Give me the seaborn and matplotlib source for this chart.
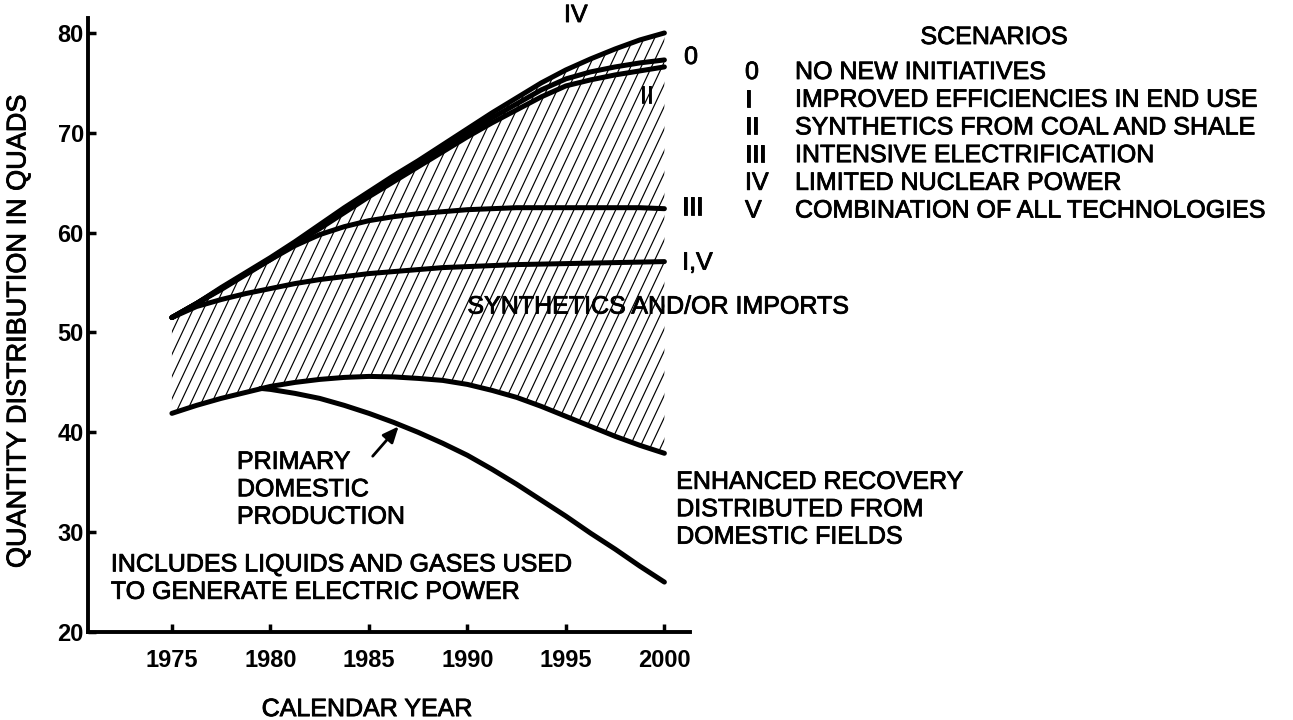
import numpy as np
import pandas as pd
import matplotlib
matplotlib.use("Agg")
import matplotlib.pyplot as plt
import matplotlib.patheffects as pe
import seaborn as sns

# ── data (quads) ───────────────────────────────────────────────────
years = [1975, 1976.25, 1977.5, 1978.75, 1980, 1981.25, 1982.5, 1983.75, 1985, 1986.25, 1987.5,
         1988.75, 1990, 1991.25, 1992.5, 1993.75, 1995, 1996.25, 1997.5, 1998.75, 2000]
scen_iv = [51.5, 52.9, 54.5, 56.0, 57.5, 59.1, 60.8, 62.5, 64.1, 65.7, 67.2,
           68.8, 70.4, 72.0, 73.5, 75.0, 76.3, 77.4, 78.4, 79.3, 80.0]
scen_0 = [51.5, 52.9, 54.4, 55.9, 57.4, 59.0, 60.6, 62.3, 63.9, 65.4, 66.9,
          68.5, 70.0, 71.5, 72.9, 74.3, 75.4, 76.1, 76.6, 77.0, 77.3]
scen_ii = [51.5, 52.9, 54.3, 55.8, 57.3, 58.9, 60.4, 62.0, 63.6, 65.1, 66.6,
           68.1, 69.6, 71.0, 72.3, 73.6, 74.7, 75.3, 75.8, 76.2, 76.6]
scen_iii = [51.5, 52.9, 54.4, 55.9, 57.3, 58.7, 59.8, 60.6, 61.2, 61.6, 61.9,
            62.1, 62.3, 62.4, 62.5, 62.5, 62.5, 62.5, 62.5, 62.5, 62.4]
scen_i_v = [51.5, 52.6, 53.3, 53.9, 54.4, 54.9, 55.3, 55.6, 55.9, 56.1, 56.3,
            56.5, 56.6, 56.7, 56.8, 56.85, 56.9, 56.95, 57.0, 57.05, 57.1]
enhanced = [41.9, 42.7, 43.4, 44.0, 44.6, 45.0, 45.3, 45.5, 45.6, 45.55, 45.4,
            45.2, 44.8, 44.2, 43.5, 42.6, 41.6, 40.6, 39.6, 38.7, 37.9]

primary_years = [1979.5, 1980, 1981.25, 1982.5, 1983.75, 1985, 1986.25, 1987.5, 1988.75,
                 1990, 1991.25, 1992.5, 1993.75, 1995, 1996.25, 1997.5, 1998.75, 2000]
primary = [44.4, 44.3, 43.9, 43.4, 42.7, 41.9, 41.0, 40.0, 38.9,
           37.7, 36.3, 34.8, 33.2, 31.6, 29.9, 28.3, 26.6, 25.0]

x_ticks = [1975, 1980, 1985, 1990, 1995, 2000]
y_ticks = [20, 30, 40, 50, 60, 70, 80]

scenario_codes = ["0", "I", "II", "III", "IV", "V"]
scenario_names = [
    "NO NEW INITIATIVES",
    "IMPROVED EFFICIENCIES IN END USE",
    "SYNTHETICS FROM COAL AND SHALE",
    "INTENSIVE ELECTRIFICATION",
    "LIMITED NUCLEAR POWER",
    "COMBINATION OF ALL TECHNOLOGIES",
]

# long-form table for seaborn
curves = {
    "IV": (years, scen_iv),
    "0": (years, scen_0),
    "II": (years, scen_ii),
    "III": (years, scen_iii),
    "I,V": (years, scen_i_v),
    "enhanced": (years, enhanced),
    "primary": (primary_years, primary),
}
df = pd.concat(
    [pd.DataFrame({"year": xs, "quads": ys, "curve": name}) for name, (xs, ys) in curves.items()],
    ignore_index=True,
)

# ── style ───────────────────────────────────────────────────────────
sns.set_theme(style="ticks")
plt.rcParams["font.family"] = ["Liberation Sans", "DejaVu Sans"]
plt.rcParams["text.color"] = "black"
plt.rcParams["axes.labelcolor"] = "black"

# slightly heavier lettering, like the printed original
ink = [pe.withStroke(linewidth=0.6, foreground="black")]

W, H = 1293, 720
fig = plt.figure(figsize=(W / 100, H / 100), dpi=100)
ax = fig.add_axes([88 / W, 1 - 632 / H, (690 - 88) / W, (632 - 18) / H])
ax.set_xlim(1970.74, 2001.3)
ax.set_ylim(20, 81.5)

# hatched band between enhanced recovery and the top scenario
band = ax.fill_between(years, enhanced, scen_iv, facecolor="none", edgecolor="none")
clip = band.get_paths()[0]
slope = 4.2          # steep hatch (~65 deg on screen)
step = 0.53          # spacing in years
for x0 in np.arange(1955, 2002, step):
    ln, = ax.plot([x0, x0 + 70 / slope], [15, 85], color="black", lw=0.85, zorder=1)
    ln.set_clip_path(clip, ax.transData)

sns.lineplot(data=df, x="year", y="quads", units="curve", estimator=None,
             sort=False, color="black", lw=3.6, solid_capstyle="round",
             solid_joinstyle="round", ax=ax, zorder=3)

# ── axes ────────────────────────────────────────────────────────────
sns.despine(ax=ax)
for side in ["left", "bottom"]:
    ax.spines[side].set_linewidth(2.8)
    ax.spines[side].set_color("black")
ax.set_xticks(x_ticks)
ax.set_yticks(y_ticks)
ax.tick_params(direction="in", length=6, width=2.5, color="black", labelcolor="black")
ax.tick_params(axis="x", pad=12)
ax.tick_params(axis="y", pad=3)
for lab in ax.get_xticklabels() + ax.get_yticklabels():
    lab.set_fontweight("bold")
    lab.set_fontsize(17)
ax.set_xlabel("CALENDAR YEAR", fontsize=18, path_effects=ink)
ax.set_ylabel("QUANTITY DISTRIBUTION IN QUADS", fontsize=19.5, path_effects=ink)
ax.xaxis.set_label_coords(0.463, -0.106)
ax.yaxis.set_label_coords(-0.094, 0.49)

# ── annotations ─────────────────────────────────────────────────────
fs = 18
txt = dict(fontsize=fs, path_effects=ink)
ax.text(1995.5, 81.8, "IV", ha="center", va="center", **txt)
ax.text(2001.0, 77.6, "0", ha="left", va="center", **txt)
ax.text(1999.1, 73.7, "II", ha="center", va="center", **txt)
ax.text(2000.9, 62.5, "III", ha="left", va="center", **txt)
ax.text(2000.9, 57.0, "I,V", ha="left", va="center", **txt)

ax.text(1990.0, 52.6, "SYNTHETICS AND/OR IMPORTS", ha="left", va="center", **txt)
ax.text(1978.3, 34.3, "PRIMARY\nDOMESTIC\nPRODUCTION",
        ha="left", va="center", linespacing=1.18, **txt)
ax.text(2000.6, 32.3, "ENHANCED RECOVERY\nDISTRIBUTED FROM\nDOMESTIC FIELDS",
        ha="left", va="center", linespacing=1.18, **txt)
ax.text(1971.9, 25.4, "INCLUDES LIQUIDS AND GASES USED\nTO GENERATE ELECTRIC POWER",
        ha="left", va="center", linespacing=1.18, **txt)
ax.annotate("", xy=(1986.6, 40.8), xytext=(1985.1, 37.4),
            arrowprops=dict(arrowstyle="-|>,head_length=0.8,head_width=0.35",
                            color="black", lw=2))

# scenario key
fig.text(994 / W, 1 - 37 / H, "SCENARIOS", ha="center", va="center", **txt)
for i, (code, name) in enumerate(zip(scenario_codes, scenario_names)):
    y = 1 - (72 + i * 27.7) / H
    fig.text(745 / W, y, code, ha="left", va="center", **txt)
    fig.text(795 / W, y, name, ha="left", va="center", **txt)

fig.savefig("out.png", dpi=100, facecolor="white")
